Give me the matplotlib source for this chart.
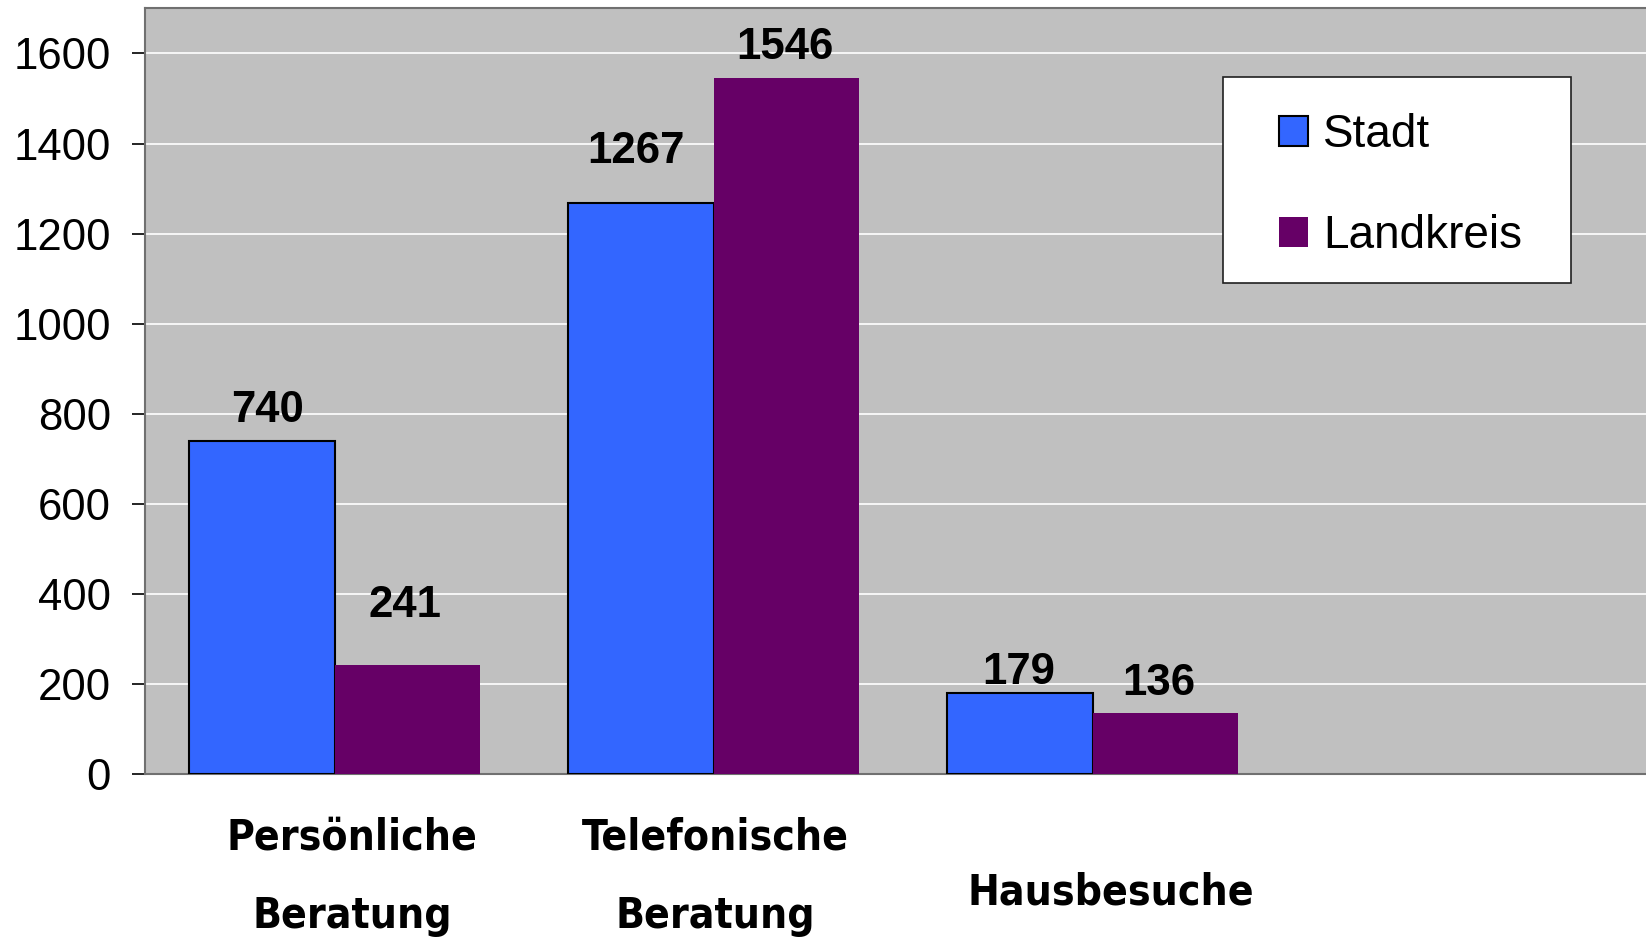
import numpy as np
import matplotlib
matplotlib.use("Agg")
import matplotlib.pyplot as plt
from matplotlib.patches import Rectangle

categories = ["Persönliche\nBeratung", "Telefonische\nBeratung", "Hausbesuche"]
stadt = [740, 1267, 179]
landkreis = [241, 1546, 136]
series_names = ["Stadt", "Landkreis"]

# label offsets in pixels (dx, dy) - labels were nudged by hand in the original
stadt_off = [(6, 30), (-5, 52), (-1, 21)]
land_off = [(-2, 60), (-1, 30), (-7, 29)]

plt.rcParams["font.family"] = ["Liberation Sans", "DejaVu Sans"]

fig = plt.figure(figsize=(16.46, 9.39), dpi=100)
ax = fig.add_axes([145 / 1646, 1 - 774 / 939, 1 - 145 / 1646, (774 - 8.4) / 939])
ax.set_facecolor("#C0C0C0")

x = np.arange(len(categories))
w = 0.384
b1 = ax.bar(x - w / 2, stadt, w, color="#3366FF", edgecolor="black", linewidth=1.5,
            label=series_names[0], zorder=3)
b2 = ax.bar(x + w / 2, landkreis, w, color="#660066", edgecolor="none",
            label=series_names[1], zorder=3)

for xi, v, off in zip(x - w / 2, stadt, stadt_off):
    ax.annotate(str(v), xy=(xi, v), xytext=off, textcoords="offset pixels",
                ha="center", va="center", fontsize=31.5, fontweight="bold")
for xi, v, off in zip(x + w / 2, landkreis, land_off):
    ax.annotate(str(v), xy=(xi, v), xytext=off, textcoords="offset pixels",
                ha="center", va="center", fontsize=31.5, fontweight="bold")

ax.set_xlim(-0.5, 3.46)
ax.set_ylim(0, 1700)
ax.set_yticks(range(0, 1601, 200))
ax.yaxis.grid(True, color="white", linewidth=1.2, zorder=0)
ax.set_axisbelow(True)
ax.tick_params(axis="y", length=9.4, width=1.2, pad=15, labelsize=31.5, color="black")
ax.set_xticks([])

for s in ["left", "top", "bottom"]:
    ax.spines[s].set_color("#707070")
    ax.spines[s].set_linewidth(1.5)
ax.spines["right"].set_visible(False)

# category labels under the axis
lab_y = [-0.134, -0.134, -0.155]
lab_dx = [0.047, 0.005, 0.047]
for xi, txt, yy, dx in zip(x, categories, lab_y, lab_dx):
    ax.text(xi + dx, yy, txt, transform=ax.get_xaxis_transform(), ha="center", va="center",
            fontsize=30.5, fontweight="bold", family="DejaVu Sans", fontstretch="condensed",
            linespacing=2.1)

# legend box drawn separately so the padding can match the original
ax.add_patch(Rectangle((1223 / 1646, 1 - 283 / 939), 348 / 1646, 206 / 939,
                       transform=fig.transFigure, facecolor="white", clip_on=False,
                       edgecolor="#202020", linewidth=1.2, zorder=5))
leg = ax.legend(loc="upper left", bbox_to_anchor=(1279 / 1646, 1 - 113 / 939),
                bbox_transform=fig.transFigure, fontsize=33, frameon=False,
                borderpad=0, labelspacing=1.25, handlelength=0.64, handleheight=0.64,
                handletextpad=0.32, borderaxespad=0)
leg.set_zorder(6)

fig.savefig("out.png", dpi=100)
